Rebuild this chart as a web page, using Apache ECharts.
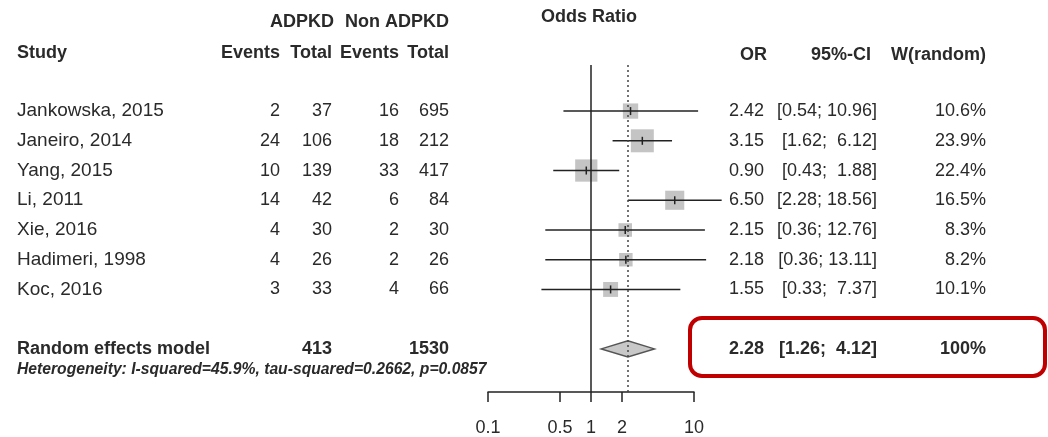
<!DOCTYPE html>
<html>
<head>
<meta charset="utf-8">
<script src="https://cdn.jsdelivr.net/npm/echarts@6/dist/echarts.min.js"></script>
<style>
  html, body { margin: 0; padding: 0; background: #fff; }
  #main { width: 1048px; height: 437px; }
</style>
</head>
<body>
<div id="main"></div>
<script>
// forest plot data
const studies = ['Jankowska, 2015', 'Janeiro, 2014', 'Yang, 2015', 'Li, 2011', 'Xie, 2016', 'Hadimeri, 1998', 'Koc, 2016'];
const adpkdEvents = [2, 24, 10, 14, 4, 4, 3];
const adpkdTotal = [37, 106, 139, 42, 30, 26, 33];
const nonEvents = [16, 18, 33, 6, 2, 2, 4];
const nonTotal = [695, 212, 417, 84, 30, 26, 66];
const orVals = [2.42, 3.15, 0.90, 6.50, 2.15, 2.18, 1.55];
const ciLow = [0.54, 1.62, 0.43, 2.28, 0.36, 0.36, 0.33];
const ciHigh = [10.96, 6.12, 1.88, 18.56, 12.76, 13.11, 7.37];
const weights = [10.6, 23.9, 22.4, 16.5, 8.3, 8.2, 10.1];

const pooledOr = 2.28;
const pooledLow = 1.26;
const pooledHigh = 4.12;
const pooledTotals = [413, 1530];
const tickLabels = [0.1, 0.5, 1, 2, 10];

const FONT = 'Liberation Sans, Arial, sans-serif';
const TXT = '#2a2a2a';
const pooledRow = 9;

const chart = echarts.init(document.getElementById('main'));

function txt(x, y, s, align, bold, size) {
  return {
    type: 'text',
    x: x, y: y,
    style: {
      text: s, fill: TXT, align: align || 'left', verticalAlign: 'middle',
      font: (bold ? 'bold ' : '') + (size || 18) + 'px ' + FONT
    }
  };
}

function fmt(v) { return v.toFixed(2); }
// R style CI string, upper bound padded to the same width
function ci(lo, hi) {
  let h = fmt(hi);
  while (h.length < 5) h = ' ' + h;
  return '[' + fmt(lo) + '; ' + h + ']';
}

const option = {
  backgroundColor: '#fff',
  animation: false,
  grid: { left: 488, width: 206, top: 65, bottom: 45 },
  xAxis: {
    type: 'value', min: -1, max: 1,
    axisLine: { onZero: false, lineStyle: { color: '#222', width: 1.5 } },
    axisTick: {
      customValues: tickLabels.map(Math.log10), length: 10,
      lineStyle: { color: '#222', width: 1.5 }
    },
    axisLabel: {
      customValues: tickLabels.map(Math.log10), margin: 27,
      color: TXT, fontSize: 18, fontFamily: FONT,
      formatter: function (v) {
        let best = tickLabels[0];
        tickLabels.forEach(function (t) { if (Math.abs(Math.log10(t) - v) < Math.abs(Math.log10(best) - v)) best = t; });
        return String(best);
      }
    },
    splitLine: { show: false }
  },
  yAxis: { type: 'value', min: -0.55, max: 10.45, inverse: true, show: false },
  graphic: [
    txt(302, 22, 'ADPKD', 'center', true),
    txt(449, 22, 'Non ADPKD', 'right', true),
    txt(17, 53, 'Study', 'left', true),
    txt(280, 53, 'Events', 'right', true),
    txt(332, 53, 'Total', 'right', true),
    txt(399, 53, 'Events', 'right', true),
    txt(449, 53, 'Total', 'right', true),
    txt(589, 17, 'Odds Ratio', 'center', true),
    txt(767, 55, 'OR', 'right', true),
    txt(871, 55, '95%-CI', 'right', true),
    txt(986, 55, 'W(random)', 'right', true),
    {
      type: 'text', x: 17, y: 370,
      style: {
        text: 'Heterogeneity: I-squared=45.9%, tau-squared=0.2662, p=0.0857',
        fill: TXT, verticalAlign: 'middle', font: 'italic bold 15.7px ' + FONT
      }
    },
    {
      type: 'rect', z: 10,
      shape: { x: 690, y: 318, width: 355, height: 58, r: 12 },
      style: { fill: 'none', stroke: '#c00000', lineWidth: 4 }
    }
  ],
  series: [
    {
      // reference lines
      type: 'line', data: [], silent: true,
      markLine: {
        symbol: 'none', silent: true, label: { show: false },
        data: [
          { xAxis: 0, lineStyle: { color: '#222', width: 1.5, type: 'solid' } },
          { xAxis: Math.log10(pooledOr), lineStyle: { color: '#444', width: 1.5, type: [2, 3] } }
        ]
      }
    },
    {
      // study squares and CIs
      type: 'custom', clip: false,
      data: studies.map(function (s, i) {
        return [Math.log10(orVals[i]), i + 1, Math.log10(ciLow[i]), Math.log10(ciHigh[i]), weights[i]];
      }),
      renderItem: function (params, api) {
        const c = api.coord([api.value(0), api.value(1)]);
        const lo = api.coord([api.value(2), api.value(1)]);
        const hi = api.coord([api.value(3), api.value(1)]);
        const sz = 4.7 * Math.sqrt(api.value(4));
        return {
          type: 'group',
          children: [
            { type: 'rect', shape: { x: c[0] - sz / 2, y: c[1] - sz / 2, width: sz, height: sz }, style: { fill: '#c4c4c4' } },
            { type: 'line', shape: { x1: lo[0], y1: c[1], x2: hi[0], y2: c[1] }, style: { stroke: '#222', lineWidth: 1.5 } },
            { type: 'line', shape: { x1: c[0], y1: c[1] - 4, x2: c[0], y2: c[1] + 4 }, style: { stroke: '#222', lineWidth: 1.5 } }
          ]
        };
      }
    },
    {
      // pooled diamond
      type: 'custom', clip: false,
      data: [[Math.log10(pooledOr), pooledRow, Math.log10(pooledLow), Math.log10(pooledHigh)]],
      renderItem: function (params, api) {
        const c = api.coord([api.value(0), api.value(1)]);
        const lo = api.coord([api.value(2), api.value(1)]);
        const hi = api.coord([api.value(3), api.value(1)]);
        return {
          type: 'polygon',
          shape: { points: [[lo[0], c[1]], [c[0], c[1] - 8], [hi[0], c[1]], [c[0], c[1] + 8]] },
          style: { fill: '#c8c8c8', stroke: '#555', lineWidth: 1.5 }
        };
      }
    },
    {
      // table text for each study row
      type: 'custom', clip: false, silent: true,
      data: studies.map(function (s, i) { return [0, i + 1]; }),
      renderItem: function (params, api) {
        const i = params.dataIndex;
        const y = api.coord([0, api.value(1)])[1];
        return {
          type: 'group',
          children: [
            txt(17, y, studies[i], 'left', false, 19),
            txt(280, y, String(adpkdEvents[i]), 'right'),
            txt(332, y, String(adpkdTotal[i]), 'right'),
            txt(399, y, String(nonEvents[i]), 'right'),
            txt(449, y, String(nonTotal[i]), 'right'),
            txt(764, y, fmt(orVals[i]), 'right'),
            txt(877, y, ci(ciLow[i], ciHigh[i]), 'right'),
            txt(986, y, weights[i].toFixed(1) + '%', 'right')
          ]
        };
      }
    },
    {
      // pooled row text
      type: 'custom', clip: false, silent: true,
      data: [[0, pooledRow]],
      renderItem: function (params, api) {
        const y = api.coord([0, api.value(1)])[1];
        return {
          type: 'group',
          children: [
            txt(17, y, 'Random effects model', 'left', true),
            txt(332, y, String(pooledTotals[0]), 'right', true),
            txt(449, y, String(pooledTotals[1]), 'right', true),
            txt(764, y, fmt(pooledOr), 'right', true),
            txt(877, y, ci(pooledLow, pooledHigh), 'right', true),
            txt(986, y, '100%', 'right', true)
          ]
        };
      }
    }
  ]
};

chart.setOption(option);
</script>
</body>
</html>
